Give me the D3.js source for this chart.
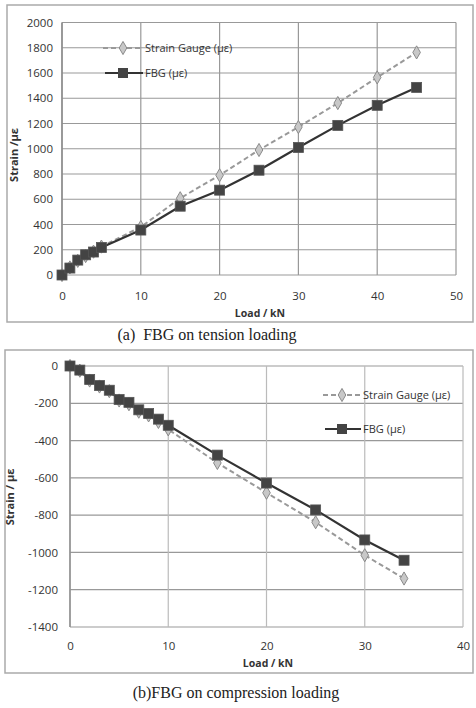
<!DOCTYPE html>
<html>
<head>
<meta charset="utf-8">
<script src="https://cdn.jsdelivr.net/npm/d3@7"></script>
<style>
  body { margin: 0; background: #fff; }
  svg { display: block; }
  .tick text { font-family: "Open Sans", sans-serif; font-size: 11.5px; fill: #333; }
</style>
</head>
<body>
<svg id="chart" width="476" height="708"></svg>
<script>
// tension test (a)
var tensLoad = [0, 1, 2, 3, 4, 5, 10, 15, 20, 25, 30, 35, 40, 45];
var tensFBG = [0, 55, 118, 160, 182, 218, 356, 545, 672, 830, 1010, 1185, 1344, 1486];
var tensSG = [0, 60, 112, 150, 185, 225, 380, 608, 790, 990, 1172, 1362, 1565, 1763];
var tensXTicks = [0, 10, 20, 30, 40, 50];
var tensYTicks = [0, 200, 400, 600, 800, 1000, 1200, 1400, 1600, 1800, 2000];

// compression test (b)
var compLoad = [0, 1, 2, 3, 4, 5, 6, 7, 8, 9, 10, 15, 20, 25, 30, 34];
var compFBG = [0, -22, -72, -105, -130, -180, -195, -235, -255, -285, -318, -478, -628, -772, -933, -1042];
var compSG = [0, -25, -78, -110, -135, -185, -205, -245, -265, -300, -340, -520, -680, -838, -1015, -1140];
var compXTicks = [0, 10, 20, 30, 40];
var compYTicks = [0, -200, -400, -600, -800, -1000, -1200, -1400];

var seriesNames = ["Strain Gauge (\u03bc\u03b5)", "FBG  (\u03bc\u03b5)"];

var svg = d3.select("#chart");

function drawPanel(p) {
  var g = svg.append("g");

  // outer frame
  g.append("rect")
    .attr("x", p.frame[0]).attr("y", p.frame[1])
    .attr("width", p.frame[2] - p.frame[0]).attr("height", p.frame[3] - p.frame[1])
    .attr("fill", "none").attr("stroke", "#aaa").attr("stroke-width", 1.5);

  var x = d3.scaleLinear().domain(p.xDomain).range([p.left, p.right]);
  var y = d3.scaleLinear().domain(p.yDomain).range([p.bottom, p.top]);

  // grid
  g.append("g").selectAll("line").data(p.yTicks).join("line")
    .attr("x1", p.left).attr("x2", p.right)
    .attr("y1", function(d) { return y(d); }).attr("y2", function(d) { return y(d); })
    .attr("stroke", "#999").attr("stroke-width", 1.2);
  g.append("g").selectAll("line").data(p.xTicks).join("line")
    .attr("y1", p.top).attr("y2", p.bottom)
    .attr("x1", function(d) { return x(d); }).attr("x2", function(d) { return x(d); })
    .attr("stroke", p.vGrid).attr("stroke-width", 1.2);
  g.append("line")
    .attr("x1", p.left).attr("x2", p.left).attr("y1", p.top).attr("y2", p.bottom)
    .attr("stroke", "#888").attr("stroke-width", 1.4);

  // axes (labels only), plain numbers with a hyphen minus
  var fmt = function(d) { return String(d); };
  var ya = g.append("g").attr("transform", "translate(" + p.left + ",0)")
    .call(d3.axisLeft(y).tickValues(p.yTicks).tickFormat(fmt).tickSize(0).tickPadding(p.yPad));
  ya.select(".domain").remove();
  var xa = g.append("g").attr("transform", "translate(0," + p.xLabelY + ")")
    .call(d3.axisBottom(x).tickValues(p.xTicks).tickFormat(fmt).tickSize(0).tickPadding(0));
  xa.select(".domain").remove();

  g.append("text")
    .attr("x", p.xTitle[0]).attr("y", p.xTitle[1])
    .attr("text-anchor", "middle")
    .style("font-family", "'Open Sans', sans-serif").style("font-size", "10.5px")
    .style("font-weight", "bold").attr("fill", "#333")
    .text("Load / kN");
  g.append("text")
    .attr("transform", "translate(" + p.yTitle[0] + "," + p.yTitle[1] + ") rotate(-90)")
    .attr("text-anchor", "middle")
    .style("font-family", "'Open Sans', sans-serif").style("font-size", "11px")
    .style("font-weight", "bold").attr("fill", "#333")
    .text(p.yTitleText);

  var line = d3.line()
    .x(function(d) { return x(d[0]); })
    .y(function(d) { return y(d[1]); });

  var sg = d3.zip(p.load, p.sg);
  var fbg = d3.zip(p.load, p.fbg);

  g.append("path").datum(sg).attr("d", line)
    .attr("fill", "none").attr("stroke", "#999").attr("stroke-width", 2)
    .attr("stroke-dasharray", "5,3");
  g.append("g").selectAll("path").data(sg).join("path")
    .attr("d", d3.symbol(d3.symbolDiamond, 50))
    .attr("transform", function(d) { return "translate(" + x(d[0]) + "," + y(d[1]) + ")"; })
    .attr("fill", "#c8c8c8").attr("stroke", "#8a8a8a").attr("stroke-width", 1);

  g.append("path").datum(fbg).attr("d", line)
    .attr("fill", "none").attr("stroke", "#333").attr("stroke-width", 2.2);
  g.append("g").selectAll("rect").data(fbg).join("rect")
    .attr("x", function(d) { return x(d[0]) - 5; })
    .attr("y", function(d) { return y(d[1]) - 5; })
    .attr("width", 10).attr("height", 10)
    .attr("fill", "#444").attr("stroke", "#555").attr("stroke-width", 0.8);

  // legend
  var lg = g.append("g");
  var L = p.legend;
  lg.append("line").attr("x1", L.x0).attr("x2", L.x1).attr("y1", L.y[0]).attr("y2", L.y[0])
    .attr("stroke", "#999").attr("stroke-width", 2).attr("stroke-dasharray", "5,3");
  lg.append("path").attr("d", d3.symbol(d3.symbolDiamond, 50))
    .attr("transform", "translate(" + (L.x0 + L.x1) / 2 + "," + L.y[0] + ")")
    .attr("fill", "#c8c8c8").attr("stroke", "#8a8a8a");
  lg.append("line").attr("x1", L.x0 + 2).attr("x2", L.x1).attr("y1", L.y[1]).attr("y2", L.y[1])
    .attr("stroke", "#333").attr("stroke-width", 2.2);
  lg.append("rect").attr("x", (L.x0 + L.x1) / 2 - 5).attr("y", L.y[1] - 5)
    .attr("width", 10).attr("height", 10).attr("fill", "#444");
  lg.selectAll("text").data(seriesNames).join("text")
    .attr("x", L.x1 + 2).attr("y", function(d, i) { return L.y[i]; })
    .attr("dy", "0.35em")
    .style("font-family", "'Open Sans', sans-serif").style("font-size", "11px")
    .attr("fill", "#333")
    .text(function(d) { return d; });

  svg.append("text")
    .attr("x", p.caption[0]).attr("y", p.caption[1])
    .attr("text-anchor", "middle")
    .style("font-family", "'Liberation Serif', serif").style("font-size", "16px")
    .attr("fill", "#222")
    .attr("xml:space", "preserve")
    .text(p.captionText);
}

drawPanel({
  frame: [7, 5, 473, 322],
  left: 62, right: 456, top: 22.5, bottom: 275,
  xDomain: [0, 50], yDomain: [0, 2000],
  xTicks: tensXTicks, yTicks: tensYTicks,
  vGrid: "#999", yPad: 9, xLabelY: 292,
  xTitle: [260, 317], yTitle: [18, 155], yTitleText: "Strain /\u03bc\u03b5",
  load: tensLoad, sg: tensSG, fbg: tensFBG,
  legend: { x0: 103, x1: 143, y: [48, 73] },
  caption: [207, 340], captionText: "(a)  FBG on tension loading"
});

drawPanel({
  frame: [5, 350, 473, 673],
  left: 70, right: 463, top: 366, bottom: 627,
  xDomain: [0, 40], yDomain: [-1400, 0],
  xTicks: compXTicks, yTicks: compYTicks,
  vGrid: "#bbb", yPad: 12, xLabelY: 642,
  xTitle: [268, 667], yTitle: [14, 497], yTitleText: "Strain / \u03bc\u03b5",
  load: compLoad, sg: compSG, fbg: compFBG,
  legend: { x0: 323, x1: 361, y: [395, 429] },
  caption: [236, 698], captionText: "(b)FBG on compression loading"
});
</script>
</body>
</html>
